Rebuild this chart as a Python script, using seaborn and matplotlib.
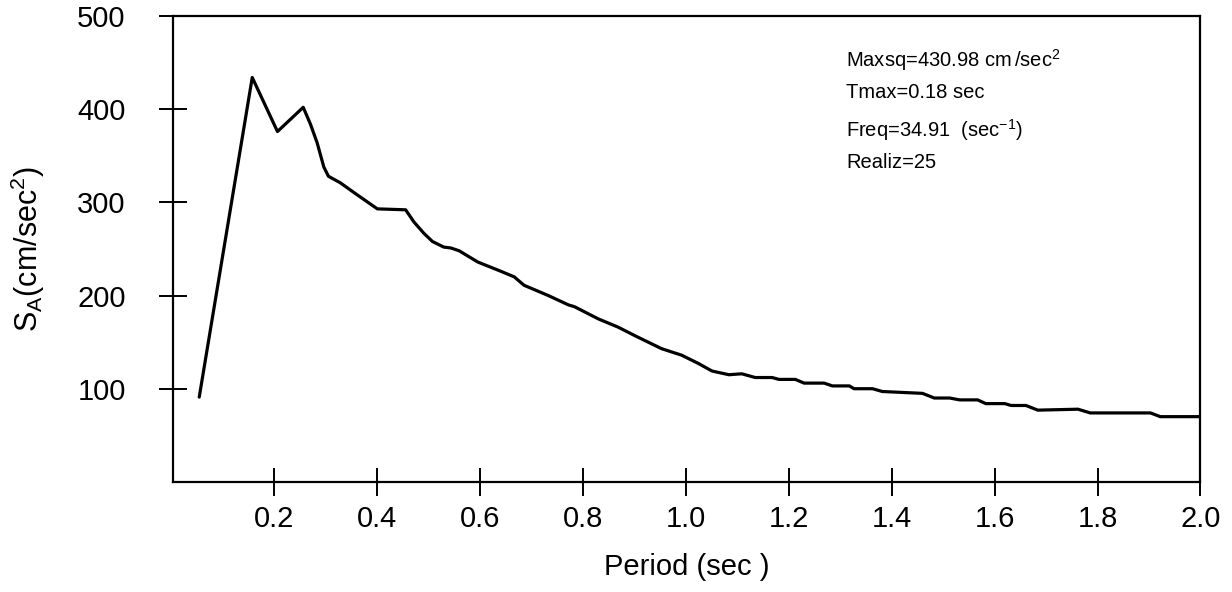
import pandas as pd
import seaborn as sns
import matplotlib
matplotlib.use("Agg")
import matplotlib.pyplot as plt

# values
period = [0.055, 0.158, 0.207, 0.257, 0.271, 0.284, 0.297, 0.306, 0.329, 0.362,
          0.401, 0.456, 0.472, 0.491, 0.508, 0.530, 0.544, 0.560, 0.596, 0.641,
          0.667, 0.686, 0.733, 0.772, 0.784, 0.830, 0.869, 0.901, 0.953, 0.992,
          1.025, 1.051, 1.084, 1.109, 1.135, 1.168, 1.181, 1.213, 1.230, 1.269,
          1.285, 1.318, 1.327, 1.363, 1.382, 1.421, 1.460, 1.483, 1.513, 1.532,
          1.567, 1.583, 1.620, 1.632, 1.661, 1.684, 1.762, 1.786, 1.903, 1.922, 2.0]
sa = [91, 434, 376, 402, 384, 364, 338, 328, 321, 308,
      293, 292, 279, 267, 258, 252, 251, 248, 236, 226,
      220, 211, 200, 190, 188, 175, 166, 157, 143, 136,
      127, 119, 115, 116, 112, 112, 110, 110, 106, 106,
      103, 103, 100, 100, 97, 96, 95, 90, 90, 88,
      88, 84, 84, 82, 82, 77, 78, 74, 74, 70, 70]

xticks = [0.2, 0.4, 0.6, 0.8, 1.0, 1.2, 1.4, 1.6, 1.8, 2.0]
yticks = [100, 200, 300, 400, 500]

info = ["Maxsq=430.98 cm$\\,$/sec$^\\mathregular{2}$",
        "Tmax=0.18 sec",
        "Freq=34.91  (sec$^\\mathregular{-1}$)",
        "Realiz=25"]

df = pd.DataFrame({"Period": period, "SA": sa})

sns.set_theme(style="white")
plt.rcParams["font.family"] = ["Liberation Sans", "DejaVu Sans"]
plt.rcParams["mathtext.fontset"] = "custom"
plt.rcParams["mathtext.rm"] = "Liberation Sans"

fig = plt.figure(figsize=(12.32, 5.92), dpi=100)
ax = fig.add_axes([0.1404, 0.186, 0.834, 0.787])

sns.lineplot(data=df, x="Period", y="SA", color="black", linewidth=2.3,
             estimator=None, sort=False, ax=ax)

ax.set_xlim(0.004, 2.0)
ax.set_ylim(0, 500)
ax.set_xticks(xticks)
ax.set_xticklabels([f"{t:.1f}" for t in xticks])
ax.set_yticks(yticks)

for s in ax.spines.values():
    s.set_color("black")
    s.set_linewidth(1.6)

ax.tick_params(axis="both", direction="inout", length=20, width=1.4,
               colors="black", labelcolor="black", labelsize=21,
               bottom=True, left=True)
ax.tick_params(axis="x", pad=7)
ax.tick_params(axis="y", pad=24)

ax.set_xlabel("Period (sec )", fontsize=21, labelpad=14, color="black")
ax.set_ylabel("S$_\\mathregular{A}$(cm/sec$^\\mathregular{2}$)", fontsize=22,
              labelpad=22, color="black")

ys = [0.905, 0.835, 0.755, 0.685]
for t, y in zip(info, ys):
    ax.text(0.655, y, t, transform=ax.transAxes, fontsize=14.5, color="black",
            va="center", ha="left")

fig.savefig("out.png", dpi=100)
